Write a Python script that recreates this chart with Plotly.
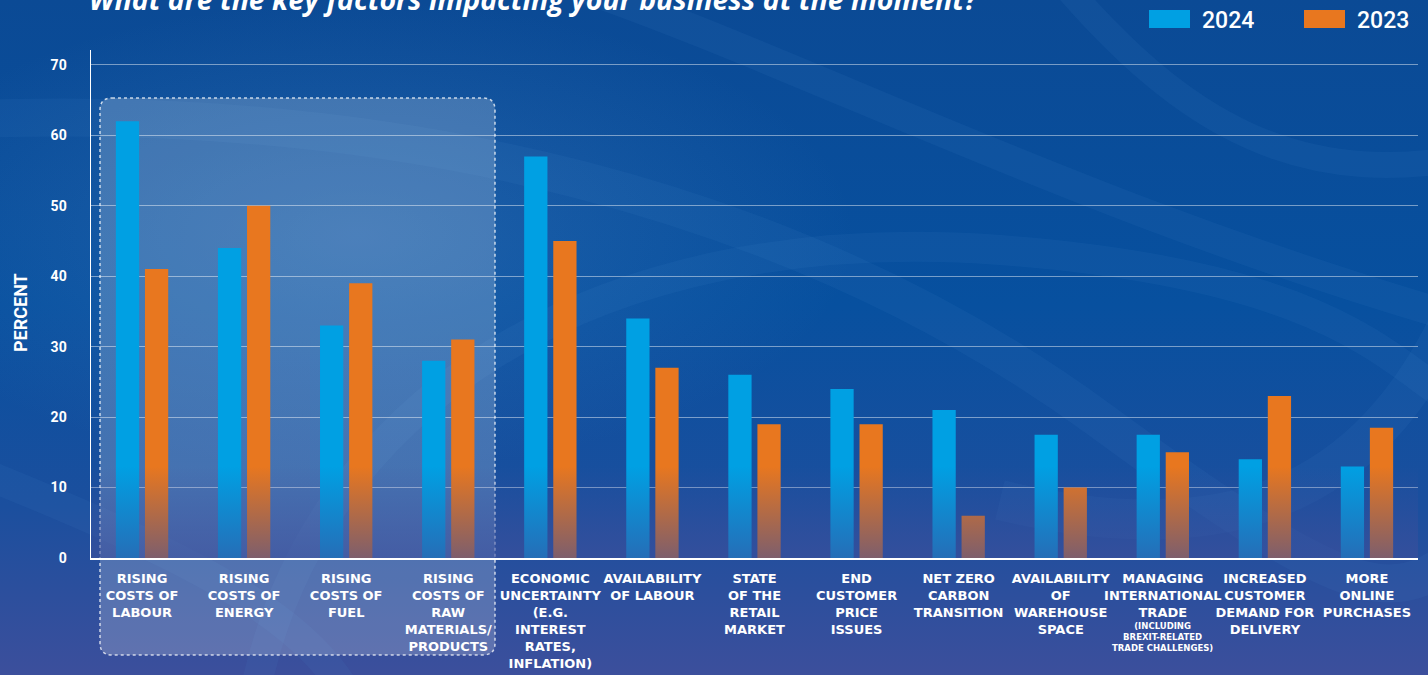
import base64
import plotly.graph_objects as go

# ---------------- data ----------------
categories = [
    "RISING<br>COSTS OF<br>LABOUR",
    "RISING<br>COSTS OF<br>ENERGY",
    "RISING<br>COSTS OF<br>FUEL",
    "RISING<br>COSTS OF<br>RAW<br>MATERIALS/<br>PRODUCTS",
    "ECONOMIC<br>UNCERTAINTY<br>(E.G.<br>INTEREST<br>RATES,<br>INFLATION)",
    "AVAILABILITY<br>OF LABOUR",
    "STATE<br>OF THE<br>RETAIL<br>MARKET",
    "END<br>CUSTOMER<br>PRICE<br>ISSUES",
    "NET ZERO<br>CARBON<br>TRANSITION",
    "AVAILABILITY<br>OF<br>WAREHOUSE<br>SPACE",
    "MANAGING<br>INTERNATIONAL<br>TRADE",
    "INCREASED<br>CUSTOMER<br>DEMAND FOR<br>DELIVERY",
    "MORE<br>ONLINE<br>PURCHASES",
]
category_note_index = 10
category_note = "(INCLUDING<br>BREXIT-RELATED<br>TRADE CHALLENGES)"
values_2024 = [62, 44, 33, 28, 57, 34, 26, 24, 21, 17.5, 17.5, 14, 13]
values_2023 = [41, 50, 39, 31, 45, 27, 19, 19, 6, 10, 15, 23, 18.5]
series_names = ["2024", "2023"]
y_ticks = [0, 10, 20, 30, 40, 50, 60, 70]
y_title = "PERCENT"
title_text = "What are the key factors impacting your business at the moment?"

# ---------------- layout geometry ----------------
W, H = 1428, 675
L, R, T, B = 91, 10, 50, 117
PW, PH = W - L - R, H - T - B
Y_MAX = 72.1

def px_x(px):
    return (px - L) / PW

def px_y(py):
    return (H - B - py) / PH

def uri(svg):
    return "data:image/svg+xml;base64," + base64.b64encode(svg.encode()).decode()

BLUE = "#00a0e3"
ORANGE = "#e8771f"
BG_BOTTOM = "#3c4f9c"

bg_svg = f"""<svg xmlns='http://www.w3.org/2000/svg' width='{W}' height='{H}' viewBox='0 0 {W} {H}' preserveAspectRatio='none'>
<defs>
<linearGradient id='g' x1='0' y1='0' x2='0' y2='1'>
<stop offset='0' stop-color='#0b4a95'/>
<stop offset='0.45' stop-color='#07509f'/>
<stop offset='0.75' stop-color='#1b4f9e'/>
<stop offset='1' stop-color='{BG_BOTTOM}'/>
</linearGradient>
<radialGradient id='glow' cx='0.25' cy='0.35' r='0.35'>
<stop offset='0' stop-color='#6fa0d8' stop-opacity='0.22'/>
<stop offset='1' stop-color='#6fa0d8' stop-opacity='0'/>
</radialGradient>
</defs>
<rect width='{W}' height='{H}' fill='url(#g)'/>
<rect width='{W}' height='{H}' fill='url(#glow)'/>
<g fill='none' stroke='#4f8fd6' stroke-opacity='0.09'>
<path d='M -50 120 C 400 100 800 200 1100 420 S 1400 600 1500 520' stroke-width='38'/>
<path d='M 560 -20 C 800 60 1100 220 1500 330' stroke-width='30'/>
<path d='M 1060 -20 C 1180 120 1300 200 1500 150' stroke-width='26'/>
<path d='M 250 720 C 300 400 600 220 1000 250 S 1400 400 1500 420' stroke-width='30'/>
<path d='M 1000 500 C 1250 560 1380 480 1460 300' stroke-width='40'/>
<path d='M -50 460 C 200 560 320 620 360 720' stroke-width='30'/>
</g>
</svg>"""

fade_svg = f"""<svg xmlns='http://www.w3.org/2000/svg' width='100' height='100' viewBox='0 0 100 100' preserveAspectRatio='none'>
<defs><linearGradient id='f' x1='0' y1='0' x2='0' y2='1'>
<stop offset='0' stop-color='{BG_BOTTOM}' stop-opacity='0'/>
<stop offset='1' stop-color='{BG_BOTTOM}' stop-opacity='0.62'/>
</linearGradient></defs>
<rect width='100' height='100' fill='url(#f)'/>
</svg>"""

fig = go.Figure()
for name, vals, col in [(series_names[0], values_2024, BLUE), (series_names[1], values_2023, ORANGE)]:
    fig.add_trace(go.Bar(
        x=categories, y=vals, name=name,
        marker=dict(color=col, line=dict(width=0)),
        showlegend=False, hoverinfo="skip",
    ))

# rounded highlight box (pixel coords converted to paper)
bx0, bx1, by0, by1, rr = 100, 495, 98, 655, 12
def P(x, y):
    return f"{px_x(x):.5f},{px_y(y):.5f}"
path = (f"M {P(bx0+rr, by0)} L {P(bx1-rr, by0)} Q {P(bx1, by0)} {P(bx1, by0+rr)} "
        f"L {P(bx1, by1-rr)} Q {P(bx1, by1)} {P(bx1-rr, by1)} "
        f"L {P(bx0+rr, by1)} Q {P(bx0, by1)} {P(bx0, by1-rr)} "
        f"L {P(bx0, by0+rr)} Q {P(bx0, by0)} {P(bx0+rr, by0)} Z")

shapes = [
    dict(type="path", path=path, xref="paper", yref="paper",
         fillcolor="rgba(255,255,255,0.20)",
         line=dict(color="rgba(255,255,255,0.75)", width=1.5, dash="dot"),
         layer="below"),
]

annotations = [
    dict(text=f"<b><i>{title_text}</i></b>", x=px_x(87), y=px_y(-1), xref="paper", yref="paper",
         xanchor="left", yanchor="middle", showarrow=False,
         font=dict(family="Open Sans", size=28.5, color="white")),
    dict(text=y_title, x=px_x(20), y=px_y(313), xref="paper", yref="paper",
         xanchor="center", yanchor="middle", textangle=-90, showarrow=False,
         font=dict(family="Roboto", size=18, color="white", weight=700)),
    dict(text=category_note, x=categories[category_note_index], y=px_y(637),
         xref="x", yref="paper", xanchor="center", yanchor="middle", showarrow=False,
         font=dict(family="DejaVu Sans", size=8.5, color="white", weight=700)),
]

# manual legend
for (x0, x1, tx), name, col in zip([(1149, 1190, 1200), (1304, 1345, 1355)], series_names, [BLUE, ORANGE]):
    shapes.append(dict(type="rect", xref="paper", yref="paper",
                       x0=px_x(x0), x1=px_x(x1), y0=px_y(28), y1=px_y(10),
                       fillcolor=col, line=dict(width=0)))
    annotations.append(dict(text=name, x=px_x(tx), y=px_y(20), xref="paper", yref="paper",
                            xanchor="left", yanchor="middle", showarrow=False,
                            font=dict(family="Roboto", size=23, color="white", weight=500)))

fig.update_layout(
    width=W, height=H,
    margin=dict(l=L, r=R, t=T, b=B, pad=0, autoexpand=False),
    paper_bgcolor=BG_BOTTOM,
    plot_bgcolor="rgba(0,0,0,0)",
    barmode="group", bargap=0.43, bargroupgap=0.2,
    shapes=shapes, annotations=annotations,
    images=[
        dict(source=uri(bg_svg), xref="paper", yref="paper",
             x=-L / PW, y=1 + T / PH, sizex=W / PW, sizey=H / PH,
             xanchor="left", yanchor="top", sizing="stretch", layer="below"),
        dict(source=uri(fade_svg), xref="paper", yref="y",
             x=0, y=13, sizex=1, sizey=13,
             xanchor="left", yanchor="top", sizing="stretch", layer="above"),
    ],
    xaxis=dict(
        showgrid=False, showline=True, linecolor="white", linewidth=1.5,
        tickangle=0, ticks="", ticklabelstandoff=8, automargin=False,
        tickfont=dict(family="DejaVu Sans", size=13, color="white", weight=700),
        fixedrange=True,
    ),
    yaxis=dict(
        range=[0, Y_MAX], tickvals=y_ticks, showgrid=True,
        gridcolor="rgba(255,255,255,0.45)", gridwidth=1,
        zeroline=False, showline=True, linecolor="white", linewidth=1.5,
        ticks="", ticklabelstandoff=20, automargin=False,
        tickfont=dict(family="Roboto", size=14, color="white", weight=700),
        fixedrange=True,
    ),
    showlegend=False,
    hovermode=False,
)

fig.write_html("out.html", config=dict(displayModeBar=False, staticPlot=True),
               post_script="document.body.style.margin='0';document.body.style.overflow='hidden';")
